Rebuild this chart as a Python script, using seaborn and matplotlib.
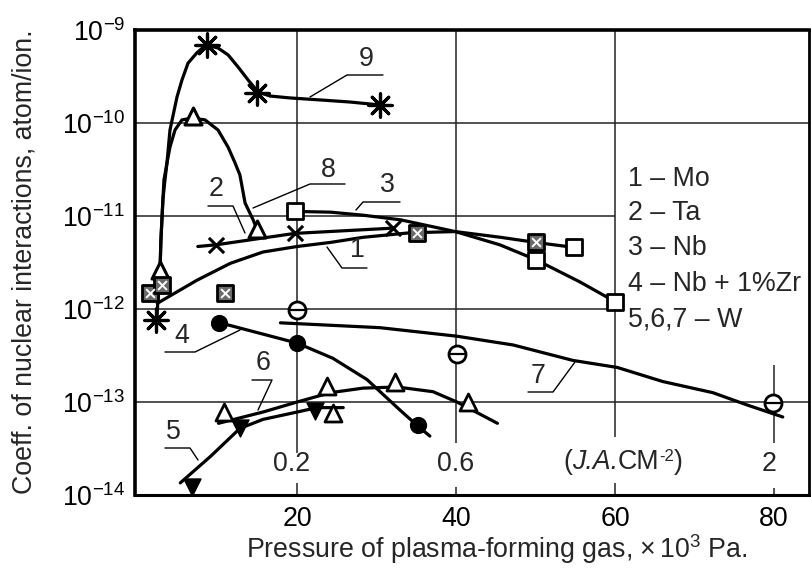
import matplotlib
matplotlib.use("Agg")
import matplotlib.pyplot as plt
import seaborn as sns
from matplotlib.ticker import FixedLocator, FixedFormatter, NullLocator
from matplotlib.offsetbox import TextArea, HPacker, AnnotationBbox

# ---------------- data ----------------
# curve 9 (asterisks)
c9_x = [2.36, 2.48, 2.74, 2.86, 3.11, 3.37, 3.62, 4.0, 4.88, 5.51, 6.27, 7.40, 8.53,
        10.05, 11.31, 12.57, 13.83, 15.10, 16.6, 19.1, 22.9, 26.7, 30.5]
c9_y = [7.6e-13, 1.25e-12, 2.44e-12, 5.5e-12, 1.49e-11, 2.44e-11, 3.7e-11, 8.4e-11,
        1.9e-10, 2.9e-10, 4.4e-10, 5.7e-10, 6.9e-10, 6.4e-10, 5.4e-10, 4.0e-10,
        2.9e-10, 2.15e-10, 1.95e-10, 1.86e-10, 1.77e-10, 1.68e-10, 1.56e-10]
m9_x = [2.2, 8.6, 15.0, 30.4]
m9_y = [7.6e-13, 6.9e-10, 2.1e-10, 1.55e-10]

# curve 2 - Ta (open triangles)
c2_x = [2.74, 2.86, 3.11, 3.24, 3.62, 4.0, 4.63, 5.51, 6.77, 8.41, 10.05, 11.31,
        12.2, 12.8, 13.45, 14.46, 14.97]
c2_y = [2.44e-12, 5.5e-12, 1.49e-11, 2.44e-11, 3.7e-11, 5.5e-11, 8.4e-11, 1.08e-10,
        1.13e-10, 1.08e-10, 8.4e-11, 5.5e-11, 3.7e-11, 2.76e-11, 1.38e-11, 9.1e-12, 7.1e-12]
m2_x = [2.8, 6.9, 15.0]
m2_y = [2.6e-12, 1.2e-10, 7.2e-12]

# curve 8 (crosses)
c8_x = [7.5, 9.8, 19.7, 32.0]
c8_y = [4.7e-12, 4.9e-12, 6.5e-12, 7.4e-12]
m8_x = [9.8, 19.7, 32.0]
m8_y = [4.9e-12, 6.5e-12, 7.4e-12]

# curve 1 - Mo
c1_x = [2.4, 7.4, 11.6, 15.7, 20.0, 24.2, 28.3, 34.2, 39.9, 45.6, 50.0, 54.8]
c1_y = [1.15e-12, 2.04e-12, 3.1e-12, 4.1e-12, 4.7e-12, 5.2e-12, 5.9e-12, 6.6e-12,
        6.8e-12, 5.9e-12, 5.2e-12, 4.6e-12]
# crossed squares
mx_x = [1.5, 3.0, 10.9, 35.1, 50.0]
mx_y = [1.5e-12, 1.8e-12, 1.48e-12, 6.6e-12, 5.2e-12]

# curve 3 - Nb (open squares)
c3_x = [19.7, 24.2, 28.3, 33.0, 39.9, 45.5, 50.0, 55.6, 60.0]
c3_y = [1.12e-11, 1.10e-11, 1.02e-11, 9.1e-12, 6.8e-12, 4.9e-12, 3.4e-12, 1.95e-12, 1.2e-12]
m3_x = [19.7, 50.0, 54.8, 60.0]
m3_y = [1.12e-11, 3.4e-12, 4.6e-12, 1.18e-12]

# curve 4 (filled circles)
c4_x = [10.3, 20.0, 24.5, 28.8, 33.0, 35.2, 36.7]
c4_y = [7.1e-13, 4.3e-13, 2.95e-13, 1.74e-13, 8.1e-14, 5.5e-14, 4.3e-14]
m4_x = [10.2, 20.0, 35.2]
m4_y = [7.1e-13, 4.3e-13, 5.6e-14]

# curve 7 - W (barred circles)
c7_x = [17.9, 30.4, 40.1, 47.2, 54.7, 60.3, 66.0, 72.3, 76.6, 81.1]
c7_y = [7.1e-13, 6.3e-13, 5.1e-13, 4.1e-13, 2.8e-13, 2.35e-13, 1.66e-13,
        1.26e-13, 9.3e-14, 6.9e-14]
m7_x = [20.0, 40.1, 79.9]
m7_y = [9.8e-13, 3.3e-13, 9.8e-14]

# curve 6 - W (open triangles)
c6_x = [10.1, 15.7, 20.0, 24.2, 28.3, 32.6, 37.1, 40.1, 45.2]
c6_y = [5.9e-14, 7.8e-14, 1.0e-13, 1.26e-13, 1.41e-13, 1.45e-13, 1.29e-13, 1.0e-13, 5.9e-14]
m6_x = [10.8, 23.8, 24.5, 32.3, 41.5]
m6_y = [7.9e-14, 1.5e-13, 7.6e-14, 1.66e-13, 1.0e-13]

# curve 5 - W (filled down-triangles)
c5_x = [5.3, 9.1, 12.8, 15.7, 20.0, 22.5, 25.8]
c5_y = [1.35e-14, 2.6e-14, 5.2e-14, 6.5e-14, 7.8e-14, 8.7e-14, 8.7e-14]
m5_x = [6.8, 12.8, 22.3]
m5_y = [1.23e-14, 5.2e-14, 8.1e-14]

x_ticks = [20, 40, 60, 80]
y_ticks = [1e-14, 1e-13, 1e-12, 1e-11, 1e-10, 1e-9]
y_tick_labels = ["10$^{-14}$", "10$^{-13}$", "10$^{-12}$", "10$^{-11}$", "10$^{-10}$", "10$^{-9}$"]
legend_lines = ["1 \u2013 Mo", "2 \u2013 Ta", "3 \u2013 Nb", "4 \u2013 Nb + 1%Zr", "5,6,7 \u2013 W"]
curve_numbers = ["9", "8", "3", "2", "1", "4", "6", "5", "7"]
density_labels = ["0.2", "0.6", "2"]
density_x = [19.3, 39.9, 79.4]

# ---------------- styling ----------------
sns.set_style("white")
plt.rcParams["font.family"] = ["Liberation Sans", "DejaVu Sans"]
plt.rcParams["mathtext.fontset"] = "custom"
plt.rcParams["mathtext.rm"] = "Liberation Sans"
plt.rcParams["mathtext.it"] = "Liberation Sans:italic"
plt.rcParams["mathtext.bf"] = "Liberation Sans:bold"
FS = 19.3
W, H = 811, 571

fig = plt.figure(figsize=(W / 100, H / 100), dpi=100)
L, R, T, B = 135, 809, 30, 495
ax = fig.add_axes([L / W, 1 - B / H, (R - L) / W, (B - T) / H])
ax.set_yscale("log")
ax.set_xlim(-0.4, 84.4)
ax.set_ylim(1e-14, 1e-9)

K = "black"
LW = 2.3

def curve(xs, ys, lw=LW):
    sns.lineplot(x=xs, y=ys, ax=ax, color=K, lw=lw, sort=False, estimator=None, zorder=3)

for xs, ys in [(c9_x, c9_y), (c2_x, c2_y), (c8_x, c8_y), (c1_x, c1_y), (c3_x, c3_y),
               (c4_x, c4_y), (c7_x, c7_y), (c6_x, c6_y), (c5_x, c5_y)]:
    curve(xs, ys)

# markers
sns.scatterplot(x=m9_x, y=m9_y, ax=ax, marker=(8, 2, 0), s=280, color=K, linewidth=2.3, zorder=6)
sns.scatterplot(x=m2_x, y=m2_y, ax=ax, marker="^", s=150, color="white", edgecolor=K, linewidth=2.2, zorder=6)
sns.scatterplot(x=m8_x, y=m8_y, ax=ax, marker="x", s=120, color=K, linewidth=2.2, zorder=6)
sns.scatterplot(x=m3_x, y=m3_y, ax=ax, marker="s", s=120, color="white", edgecolor=K, linewidth=2.0, zorder=6)
sns.scatterplot(x=mx_x, y=mx_y, ax=ax, marker="s", s=120, color="#6a6a6a", edgecolor=K, linewidth=2.0, zorder=6)
sns.scatterplot(x=mx_x, y=mx_y, ax=ax, marker="x", s=40, color="white", linewidth=1.4, zorder=7)
sns.scatterplot(x=m4_x, y=m4_y, ax=ax, marker="o", s=130, color=K, edgecolor=K, linewidth=1, zorder=6)
sns.scatterplot(x=m7_x, y=m7_y, ax=ax, marker="o", s=150, color="white", edgecolor=K, linewidth=2.0, zorder=6)
sns.scatterplot(x=m7_x, y=m7_y, ax=ax, marker="_", s=150, color=K, linewidth=1.6, zorder=7)
sns.scatterplot(x=m6_x, y=m6_y, ax=ax, marker="^", s=150, color="white", edgecolor=K, linewidth=2.0, zorder=6)
sns.scatterplot(x=m5_x, y=m5_y, ax=ax, marker="v", s=150, color=K, edgecolor=K, linewidth=1, zorder=6)

# partial grid lines
GC, GW = "#222222", 1.1
ax.hlines([1e-10, 1e-13], -0.4, 84.4, color=GC, lw=GW, zorder=1)
ax.hlines([1e-11, 1e-12], -0.4, 60, color=GC, lw=GW, zorder=1)
def ypx(py):
    return 10 ** (-9 - (py - 30) / 93.0)
ax.vlines(20, ypx(453), 1e-9, color=GC, lw=GW, zorder=1)
ax.vlines(40, ypx(443), 1e-9, color=GC, lw=GW, zorder=1)
ax.vlines(60, ypx(437), 1e-9, color=GC, lw=GW, zorder=1)
ax.vlines(80, ypx(443), ypx(365), color=GC, lw=GW, zorder=1)
for xv, top in zip(x_ticks, [483, 487, 483, 488]):
    ax.vlines(xv, 1e-14, ypx(top), color=GC, lw=GW, zorder=1)

# ticks
ax.xaxis.set_major_locator(FixedLocator(x_ticks))
ax.set_xticklabels([str(v) for v in x_ticks])
ax.yaxis.set_major_locator(FixedLocator(y_ticks))
ax.yaxis.set_minor_locator(NullLocator())
ax.yaxis.set_major_formatter(FixedFormatter(y_tick_labels))
ax.tick_params(axis="both", length=0, labelsize=FS, colors=K)
ax.tick_params(axis="x", pad=8)
ax.tick_params(axis="y", pad=7)

for side, lw in [("left", 2.6), ("top", 2.6), ("right", 2.0), ("bottom", 2.2)]:
    ax.spines[side].set_visible(True)
    ax.spines[side].set_color(K)
    ax.spines[side].set_linewidth(lw)

# axis labels
fig.text(497 / W, 1 - 549 / H, "Pressure of plasma-forming gas, $\\times\\,$10$^{3}$ Pa.",
         ha="center", va="center", fontsize=FS)
fig.text(25 / W, 1 - 262 / H, "Coeff. of nuclear interactions, atom/ion.",
         ha="center", va="center", rotation=90, fontsize=FS)

# legend text
for txt, py in zip(legend_lines, [179, 213, 248, 284, 320]):
    fig.text(628 / W, 1 - py / H, txt, ha="left", va="center", fontsize=FS)

# current density labels
for txt, xv in zip(density_labels, density_x):
    ax.text(xv, ypx(464), txt, ha="center", va="center", fontsize=FS)
unit_box = HPacker(children=[
    TextArea("(", textprops=dict(fontsize=FS)),
    TextArea("J.A.", textprops=dict(fontsize=FS, style="italic")),
    TextArea("CM", textprops=dict(fontsize=FS)),
    TextArea("-2", textprops=dict(fontsize=FS * 0.62)),
    TextArea(")", textprops=dict(fontsize=FS)),
], align="top", pad=0, sep=0)
ax.add_artist(AnnotationBbox(unit_box, (61.0, ypx(462)), frameon=False,
                             box_alignment=(0.5, 0.5), pad=0, zorder=8))

# curve number labels with leader lines (pixel positions)
label_pos = [(366, 59), (328, 170), (387, 185), (216, 189), (357, 250),
             (182, 336), (263, 363), (173, 432), (538, 376)]
leaders = [
    [(383, 75), (347, 75), (310, 97)],
    [(345, 184), (310, 184), (253, 208)],
    [(400, 202), (363, 202), (356, 210)],
    [(208, 206), (233, 206), (245, 233)],
    [(367, 268), (342, 268), (327, 247)],
    [(165, 352), (195, 352), (240, 330)],
    [(252, 380), (272, 380), (258, 410)],
    [(165, 448), (190, 448), (198, 460)],
    [(528, 392), (553, 392), (575, 362)],
]
for txt, (px, py), pts in zip(curve_numbers, label_pos, leaders):
    fig.text(px / W, 1 - py / H, txt, ha="center", va="center", fontsize=FS)
    xs = [a / W for a, b in pts]
    ys = [1 - b / H for a, b in pts]
    fig.add_artist(plt.Line2D(xs, ys, color=K, lw=1.0))

fig.savefig("out.png", dpi=100, facecolor="white")
